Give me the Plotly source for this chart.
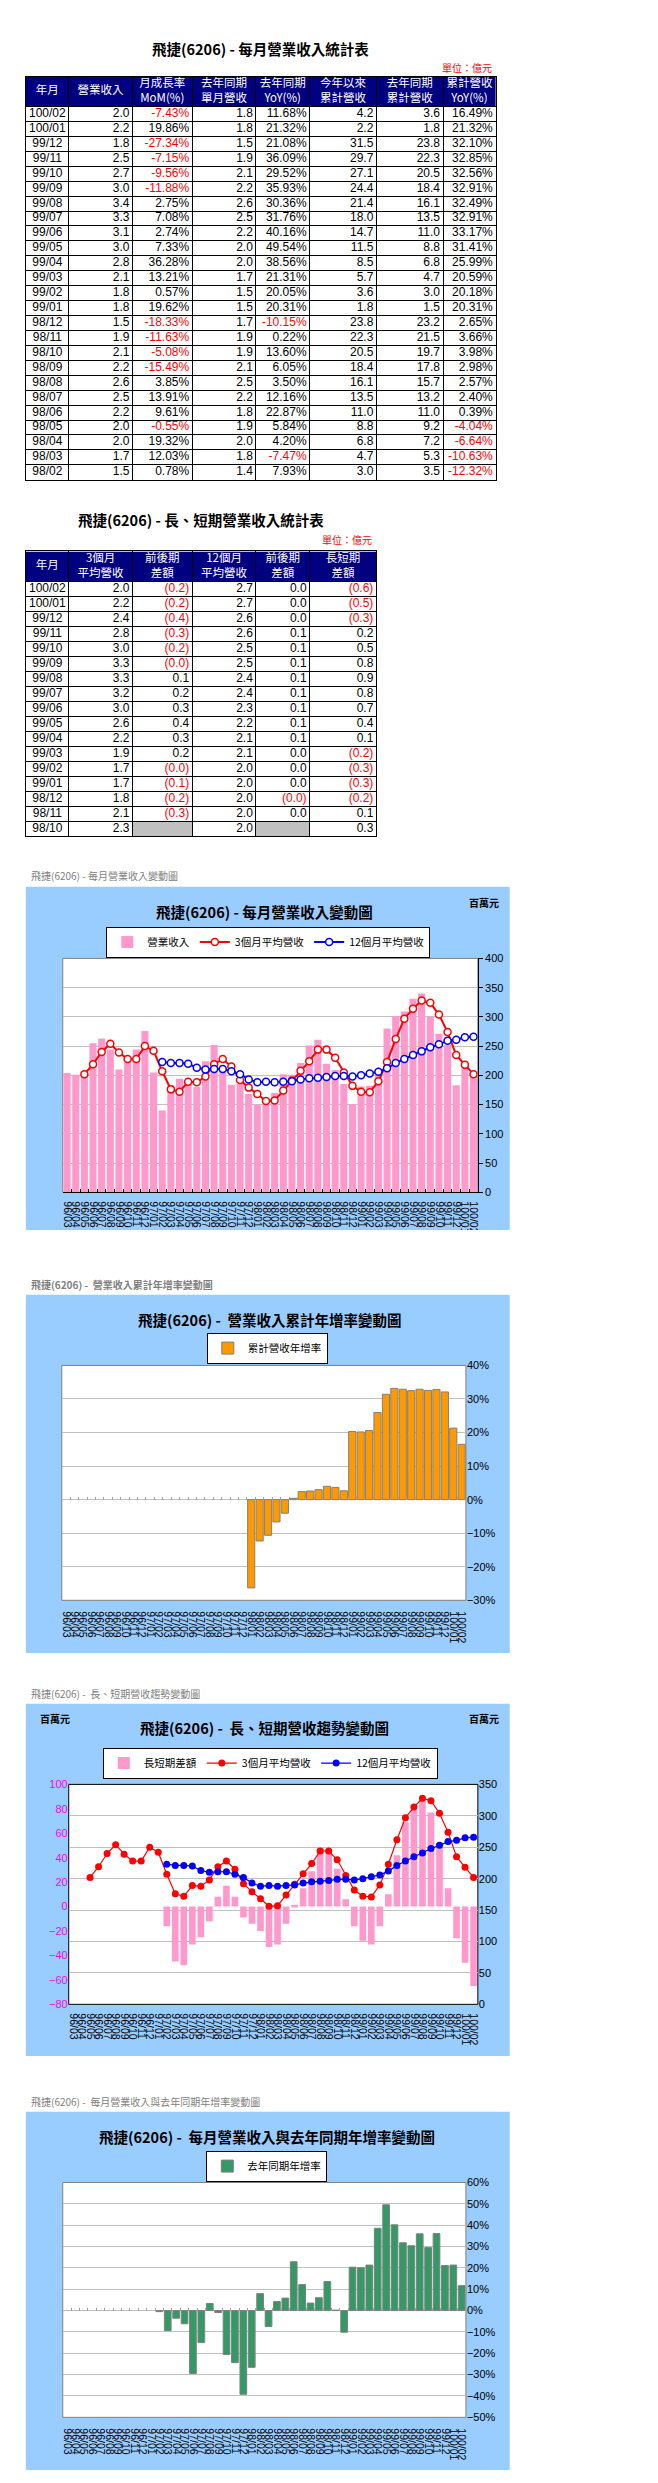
import plotly.graph_objects as go

W, H = 658, 2483
CJK = "Noto Sans CJK TC"
SANS = "Liberation Sans, Arial, sans-serif"
NARROW = "Liberation Sans Narrow, Liberation Sans, Arial, sans-serif"
GRID = "#C0C0C0"

# ---- monthly series (百萬元 / %), 96/03 .. 100/02 ----
months = ["96/03", "96/04", "96/05", "96/06", "96/07", "96/08", "96/09", "96/10", "96/11", "96/12",
          "97/01", "97/02", "97/03", "97/04", "97/05", "97/06", "97/07", "97/08", "97/09", "97/10", "97/11", "97/12",
          "98/01", "98/02", "98/03", "98/04", "98/05", "98/06", "98/07", "98/08", "98/09", "98/10", "98/11", "98/12",
          "99/01", "99/02", "99/03", "99/04", "99/05", "99/06", "99/07", "99/08", "99/09", "99/10", "99/11", "99/12",
          "100/01", "100/02"]

revenue = [204, 201, 202, 255, 263, 244, 210, 231, 244, 276,
           205, 140, 183, 194, 190, 180, 224, 252, 208, 184, 185, 168,
           150, 151, 170, 202, 201, 221, 251, 261, 220, 209, 185, 151,
           181, 182, 206, 280, 301, 309, 331, 340, 300, 271, 252, 183,
           219, 203]

avg_3m = [None, None, 202, 219, 240, 254, 239, 228, 228, 250,
          242, 207, 176, 172, 189, 188, 198, 219, 228, 215, 192, 179,
          168, 156, 157, 174, 191, 208, 224, 244, 244, 230, 205, 182,
          172, 171, 190, 223, 262, 297, 314, 328, 324, 304, 274, 235,
          218, 202]

avg_12m = [None] * 11 + [223, 221, 221, 220, 213, 210, 211, 211, 207, 202, 193,
                         188, 189, 188, 189, 190, 193, 195, 196, 197, 199, 199, 198,
                         200, 203, 206, 212, 221, 228, 235, 241, 248, 253, 259, 261,
                         265, 266]

long_short_gap = [None] * 11 + [-16, -45, -48, -31, -25, -12, 8, 17, 8, -9, -14,
                                -20, -33, -31, -14, 1.5, 15, 29, 48, 47, 31, 6, -16,
                                -28, -31, -16, 10, 42, 69, 79, 87, 77, 51, 15, -26,
                                -46, -65]

cum_yoy = [None] * 22 + [-26.3, -12.32, -10.63, -6.64, -4.04, 0.39, 2.40, 2.57, 2.98, 3.98, 3.66, 2.65,
                         20.31, 20.18, 20.59, 25.99, 31.41, 33.17, 32.91, 32.49, 32.91, 32.56, 32.85, 32.10,
                         21.32, 16.49]

yoy = [None] * 11 + [-0.5, -9.4, -3.6, -6.2, -29.5, -15.0, 3.3, -0.9, -20.6, -24.4, -39.2,
                     -26.6, 7.93, -7.47, 4.20, 5.84, 22.87, 12.16, 3.50, 6.05, 13.60, 0.22, -10.15,
                     20.31, 20.05, 21.31, 38.56, 49.54, 40.16, 31.76, 30.36, 35.93, 29.52, 36.09, 21.08,
                     21.32, 11.68]

# ---- table 1 (億元) ----
t1_month = ["100/02", "100/01", "99/12", "99/11", "99/10", "99/09", "99/08", "99/07", "99/06", "99/05",
            "99/04", "99/03", "99/02", "99/01", "98/12", "98/11", "98/10", "98/09", "98/08", "98/07",
            "98/06", "98/05", "98/04", "98/03", "98/02"]
t1_rev = [2.0, 2.2, 1.8, 2.5, 2.7, 3.0, 3.4, 3.3, 3.1, 3.0, 2.8, 2.1, 1.8, 1.8, 1.5, 1.9, 2.1, 2.2, 2.6, 2.5,
          2.2, 2.0, 2.0, 1.7, 1.5]
t1_mom = [-7.43, 19.86, -27.34, -7.15, -9.56, -11.88, 2.75, 7.08, 2.74, 7.33, 36.28, 13.21, 0.57, 19.62,
          -18.33, -11.63, -5.08, -15.49, 3.85, 13.91, 9.61, -0.55, 19.32, 12.03, 0.78]
t1_prev_rev = [1.8, 1.8, 1.5, 1.9, 2.1, 2.2, 2.6, 2.5, 2.2, 2.0, 2.0, 1.7, 1.5, 1.5, 1.7, 1.9, 1.9, 2.1, 2.5,
               2.2, 1.8, 1.9, 2.0, 1.8, 1.4]
t1_yoy = [11.68, 21.32, 21.08, 36.09, 29.52, 35.93, 30.36, 31.76, 40.16, 49.54, 38.56, 21.31, 20.05, 20.31,
          -10.15, 0.22, 13.60, 6.05, 3.50, 12.16, 22.87, 5.84, 4.20, -7.47, 7.93]
t1_ytd = [4.2, 2.2, 31.5, 29.7, 27.1, 24.4, 21.4, 18.0, 14.7, 11.5, 8.5, 5.7, 3.6, 1.8, 23.8, 22.3, 20.5,
          18.4, 16.1, 13.5, 11.0, 8.8, 6.8, 4.7, 3.0]
t1_prev_ytd = [3.6, 1.8, 23.8, 22.3, 20.5, 18.4, 16.1, 13.5, 11.0, 8.8, 6.8, 4.7, 3.0, 1.5, 23.2, 21.5, 19.7,
               17.8, 15.7, 13.2, 11.0, 9.2, 7.2, 5.3, 3.5]
t1_ytd_yoy = [16.49, 21.32, 32.10, 32.85, 32.56, 32.91, 32.49, 32.91, 33.17, 31.41, 25.99, 20.59, 20.18,
              20.31, 2.65, 3.66, 3.98, 2.98, 2.57, 2.40, 0.39, -4.04, -6.64, -10.63, -12.32]
t1_header = ["年月", "營業收入", "月成長率<br>MoM(%)", "去年同期<br>單月營收", "去年同期<br>YoY(%)",
             "今年以來<br>累計營收", "去年同期<br>累計營收", "累計營收<br>YoY(%)"]

# ---- table 2 (億元) ----
t2_month = ["100/02", "100/01", "99/12", "99/11", "99/10", "99/09", "99/08", "99/07", "99/06", "99/05",
            "99/04", "99/03", "99/02", "99/01", "98/12", "98/11", "98/10"]
t2_avg3 = [2.0, 2.2, 2.4, 2.8, 3.0, 3.3, 3.3, 3.2, 3.0, 2.6, 2.2, 1.9, 1.7, 1.7, 1.8, 2.1, 2.3]
t2_avg3_chg = [-0.2, -0.2, -0.4, -0.3, -0.2, -0.04, 0.1, 0.2, 0.3, 0.4, 0.3, 0.2, -0.04, -0.1, -0.2, -0.3, None]
t2_avg12 = [2.7, 2.7, 2.6, 2.6, 2.5, 2.5, 2.4, 2.4, 2.3, 2.2, 2.1, 2.1, 2.0, 2.0, 2.0, 2.0, 2.0]
t2_avg12_chg = [0.0, 0.0, 0.0, 0.1, 0.1, 0.1, 0.1, 0.1, 0.1, 0.1, 0.1, 0.0, 0.0, 0.0, -0.04, 0.0, None]
t2_gap = [-0.6, -0.5, -0.3, 0.2, 0.5, 0.8, 0.9, 0.8, 0.7, 0.4, 0.1, -0.2, -0.3, -0.3, -0.2, 0.1, 0.3]
t2_header = ["年月", "3個月<br>平均營收", "前後期<br>差額", "12個月<br>平均營收", "前後期<br>差額", "長短期<br>差額"]


def xd(a, b):
    return [a / W, b / W]


def yd(top, bottom):
    return [1 - bottom / H, 1 - top / H]


fig = go.Figure()
shapes = []
ann = []


def note(text, x, y, size, color="black", bold=False, xanchor="center"):
    ann.append(dict(text="<b>%s</b>" % text if bold else text, x=x / W, y=1 - y / H, xref="paper", yref="paper",
                    xanchor=xanchor, yanchor="middle", showarrow=False,
                    font=dict(size=size, color=color, family=CJK)))


def fmt_pct(v):
    return "%.2f%%" % v


def fmt_num(v):
    return "%.1f" % v


def fmt_paren(v):
    if v is None:
        return ""
    return "(%.1f)" % abs(v) if v < 0 else "%.1f" % v


def add_table(xa, ya, x0, widths, header, cols, fmts):
    bounds = [x0]
    for w in widths:
        bounds.append(bounds[-1] + w)
    n = len(cols[0])
    rows = [i + 0.5 for i in range(n)]
    centers = [(bounds[j] + bounds[j + 1]) / 2 for j in range(len(widths))]
    fig.add_trace(go.Scatter(x=centers, y=[-1] * len(header), text=header, mode="text",
                             textposition="middle center", xaxis=xa, yaxis=ya, showlegend=False,
                             hoverinfo="skip", textfont=dict(size=11.5, color="white", family=CJK)))
    for j, (col, f) in enumerate(zip(cols, fmts)):
        if j == 0:
            xs, pos = [centers[0]] * n, "middle center"
            colors = ["black"] * n
        else:
            xs, pos = [bounds[j + 1] - 3] * n, "middle left"
            colors = ["red" if (v is not None and v < 0) else "black" for v in col]
        fig.add_trace(go.Scatter(x=xs, y=rows, text=[f(v) for v in col], mode="text", textposition=pos,
                                 xaxis=xa, yaxis=ya, showlegend=False, hoverinfo="skip",
                                 textfont=dict(size=12, color=colors, family=NARROW)))
    shapes.append(dict(type="rect", xref=xa, yref=ya, x0=bounds[0], x1=bounds[-1], y0=-2, y1=0,
                       fillcolor="#000080", line=dict(width=0), layer="below"))
    return bounds, n


# ---- tables ----
ident = lambda v: v
b1, n1 = add_table("x5", "y6", 17, [43, 64, 60, 64, 54, 67, 67, 53], t1_header,
                   [t1_month, t1_rev, t1_mom, t1_prev_rev, t1_yoy, t1_ytd, t1_prev_ytd, t1_ytd_yoy],
                   [ident, fmt_num, fmt_pct, fmt_num, fmt_pct, fmt_num, fmt_num, fmt_pct])
b2, n2 = add_table("x6", "y7", 17, [43, 64, 60, 64, 54, 67], t2_header,
                   [t2_month, t2_avg3, t2_avg3_chg, t2_avg12, t2_avg12_chg, t2_gap],
                   [ident, fmt_num, fmt_paren, fmt_num, fmt_paren, fmt_paren])
for j in (2, 4):
    shapes.append(dict(type="rect", xref="x6", yref="y7", x0=b2[j], x1=b2[j + 1], y0=n2 - 1, y1=n2,
                       fillcolor="#C0C0C0", line=dict(width=0), layer="below"))


def table_axes(bounds, n, top, bottom, anchor):
    xa = dict(domain=xd(bounds[0], bounds[-1]), anchor=anchor[1], range=[bounds[0], bounds[-1]],
              tickmode="array", tickvals=bounds, showticklabels=False, showgrid=True, gridcolor="black",
              gridwidth=1, zeroline=False, showline=True, mirror=True, linecolor="black", fixedrange=True)
    ya = dict(domain=yd(top, bottom), anchor=anchor[0], range=[n, -2], tickmode="array",
              tickvals=[-2] + list(range(0, n + 1)), showticklabels=False, showgrid=True, gridcolor="black",
              gridwidth=1, zeroline=False, showline=True, mirror=True, linecolor="black", fixedrange=True)
    return xa, ya


t1x, t1y = table_axes(b1, n1, 63, 468, ("x5", "y6"))
t2x, t2y = table_axes(b2, n2, 540, 826, ("x6", "y7"))

note("飛捷(6206) - 每月營業收入統計表", 253, 35, 14.5, bold=True)
note("單位：億元", 487, 54, 10, "red", xanchor="right")
note("飛捷(6206) - 長、短期營業收入統計表", 193, 508, 14.5, bold=True)
note("單位：億元", 367, 528, 10, "red", xanchor="right")

# ---- chart 1: monthly revenue ----
fig.add_trace(go.Bar(x=months, y=revenue, name="營業收入", marker=dict(color="#FF99CC", line=dict(width=0)),
                     width=0.82, xaxis="x", yaxis="y", legend="legend"))
fig.add_trace(go.Scatter(x=months, y=avg_3m, name="3個月平均營收", mode="lines+markers",
                         line=dict(color="red", width=2),
                         marker=dict(symbol="circle", size=7, color="white", line=dict(color="red", width=1.5)),
                         xaxis="x", yaxis="y", legend="legend"))
fig.add_trace(go.Scatter(x=months, y=avg_12m, name="12個月平均營收", mode="lines+markers",
                         line=dict(color="blue", width=2),
                         marker=dict(symbol="circle", size=7, color="white", line=dict(color="blue", width=1.5)),
                         xaxis="x", yaxis="y", legend="legend"))

# ---- chart 2: cumulative yoy ----
fig.add_trace(go.Bar(x=months, y=cum_yoy, name="累計營收年增率",
                     marker=dict(color="#FF9900", line=dict(color="#808080", width=1)),
                     width=0.85, xaxis="x2", yaxis="y2", legend="legend2"))

# ---- chart 3: long / short trend ----
fig.add_trace(go.Bar(x=months, y=long_short_gap, name="長短期差額", marker=dict(color="#FF99CC", line=dict(width=0)),
                     width=0.78, xaxis="x3", yaxis="y3", legend="legend3"))
fig.add_trace(go.Scatter(x=months, y=avg_3m, name="3個月平均營收", mode="lines+markers",
                         line=dict(color="red", width=1.2), marker=dict(size=7, color="red"),
                         xaxis="x3", yaxis="y4", legend="legend3"))
fig.add_trace(go.Scatter(x=months, y=avg_12m, name="12個月平均營收", mode="lines+markers",
                         line=dict(color="blue", width=1.2), marker=dict(size=7, color="blue"),
                         xaxis="x3", yaxis="y4", legend="legend3"))

# ---- chart 4: yoy ----
fig.add_trace(go.Bar(x=months, y=yoy, name="去年同期年增率",
                     marker=dict(color="#339966", line=dict(color="#808080", width=1)),
                     width=0.8, xaxis="x4", yaxis="y5", legend="legend4"))

# empty traces that carry the tick-only category axes sitting on the 0% lines
for xa, ya in (("x7", "y2"), ("x8", "y5")):
    fig.add_trace(go.Scatter(x=months, y=[None] * len(months), mode="markers", xaxis=xa, yaxis=ya,
                             showlegend=False, hoverinfo="skip"))


def cat_axis(dom, anchor, standoff, **kw):
    d = dict(domain=dom, anchor=anchor, type="category", categoryorder="array", categoryarray=months,
             range=[-0.5, len(months) - 0.5], tickmode="array", tickvals=months, ticktext=months, tickangle=90,
             tickfont=dict(size=10.5, family=SANS, color="black"), showgrid=False, zeroline=False,
             ticklabelstandoff=standoff, fixedrange=True)
    d.update(kw)
    return d


def val_axis(dom, anchor, rng, dtick, side="right", suffix="", color="black", grid=True, **kw):
    d = dict(domain=dom, anchor=anchor, side=side, range=rng, dtick=dtick, tick0=0, ticksuffix=suffix,
             showgrid=grid, gridcolor=GRID, gridwidth=1, zeroline=False,
             tickfont=dict(size=11, family=NARROW, color=color), fixedrange=True)
    d.update(kw)
    return d


def zero_tick_axis(dom, over, top, bottom, rng):
    # paper y of the value 0 inside a plot spanning top..bottom px
    zero_px = top + rng[1] / (rng[1] - rng[0]) * (bottom - top)
    return dict(domain=dom, overlaying=over, anchor="free", position=1 - zero_px / H, type="category",
                categoryorder="array", categoryarray=months, range=[-0.5, len(months) - 0.5],
                tickmode="array", tickvals=months, tickson="boundaries", ticks="inside", ticklen=3,
                tickcolor="#A0A0A0", showticklabels=False, showgrid=False, zeroline=False, showline=False,
                fixedrange=True)


charts = [
    # blue box top/bottom, plot left/right/top/bottom, plot border
    ("x", "y", 877, 1222, (54, 471, 949, 1184), "#808080"),
    ("x2", "y2", 1287, 1647, (53, 459, 1358, 1594), "#808080"),
    ("x3", "y3", 1698, 2052, (60, 471, 1779, 2000), "black"),
    ("x4", "y5", 2108, 2468, (54, 459, 2179, 2415), "#808080"),
]
for xa, ya, btop, bbot, p, border in charts:
    shapes.append(dict(type="rect", xref="paper", yref="paper", x0=17 / W, x1=503 / W,
                       y0=1 - bbot / H, y1=1 - btop / H, fillcolor="#99CCFF", line=dict(width=0), layer="below"))
    shapes.append(dict(type="rect", xref=xa + " domain", yref=ya + " domain", x0=0, x1=1, y0=0, y1=1,
                       fillcolor="white", line=dict(color=border, width=1), layer="below"))
# the page clips the first chart's category labels
shapes.append(dict(type="rect", xref="paper", yref="paper", x0=0, x1=1, y0=1 - 1268 / H, y1=1 - 1222 / H,
                   fillcolor="white", line=dict(width=0), layer="above"))

p1, p2, p3, p4 = [c[4] for c in charts]
r2, r4 = [-30, 40], [-50, 60]

note("飛捷(6206) - 每月營業收入變動圖", 20, 866, 10, "#808080", xanchor="left")
note("飛捷(6206) - 每月營業收入變動圖", 257, 902, 14.5, bold=True)
note("百萬元", 477, 893, 10, bold=True)
note("飛捷(6206) -  營業收入累計年增率變動圖", 20, 1277, 10, "#808080", bold=True, xanchor="left")
note("飛捷(6206) -  營業收入累計年增率變動圖", 262, 1312, 14.5, bold=True)
note("飛捷(6206) -  長、短期營收趨勢變動圖", 20, 1688, 10, "#808080", xanchor="left")
note("飛捷(6206) -  長、短期營收趨勢變動圖", 257, 1722, 14.5, bold=True)
note("百萬元", 46, 1713, 10, bold=True)
note("百萬元", 477, 1713, 10, bold=True)
note("飛捷(6206) -  每月營業收入與去年同期年增率變動圖", 20, 2098, 10, "#808080", xanchor="left")
note("飛捷(6206) -  每月營業收入與去年同期年增率變動圖", 259, 2133, 14.5, bold=True)


def legend_box(cx, top):
    return dict(x=cx / W, y=1 - top / H, xanchor="center", yanchor="top", orientation="h", bgcolor="white",
                bordercolor="black", borderwidth=1, font=dict(size=10.5, family=CJK, color="black"),
                itemwidth=30)


fig.update_layout(
    width=W, height=H, autosize=False, margin=dict(l=0, r=0, t=0, b=0),
    paper_bgcolor="white", plot_bgcolor="white", barmode="overlay", showlegend=True,
    shapes=shapes, annotations=ann,
    legend=legend_box(260.5, 917), legend2=legend_box(259.5, 1325),
    legend3=legend_box(262.5, 1742), legend4=legend_box(259, 2147),
    xaxis=cat_axis(xd(p1[0], p1[1]), "y", 6, showline=True, linecolor="black", ticks="inside",
                   tickson="boundaries", ticklen=3, tickcolor="black"),
    yaxis=val_axis(yd(p1[2], p1[3]), "x", [0, 400], 50, showline=True, linecolor="black", ticks="outside",
                   ticklen=4, tickcolor="black"),
    xaxis2=cat_axis(xd(p2[0], p2[1]), "y2", 10),
    yaxis2=val_axis(yd(p2[2], p2[3]), "x2", r2, 10, suffix="%"),
    xaxis3=cat_axis(xd(p3[0], p3[1]), "y3", 8),
    yaxis3=val_axis(yd(p3[2], p3[3]), "x3", [-80, 100], 20, side="left", color="#FF00FF", grid=False),
    yaxis4=val_axis(yd(p3[2], p3[3]), "x3", [0, 350], 50, overlaying="y3"),
    xaxis4=cat_axis(xd(p4[0], p4[1]), "y5", 10),
    yaxis5=val_axis(yd(p4[2], p4[3]), "x4", r4, 10, suffix="%"),
    xaxis5=t1x, yaxis6=t1y, xaxis6=t2x, yaxis7=t2y,
    xaxis7=zero_tick_axis(xd(p2[0], p2[1]), "x2", p2[2], p2[3], r2),
    xaxis8=zero_tick_axis(xd(p4[0], p4[1]), "x4", p4[2], p4[3], r4),
)

fig.write_html("out.html")
